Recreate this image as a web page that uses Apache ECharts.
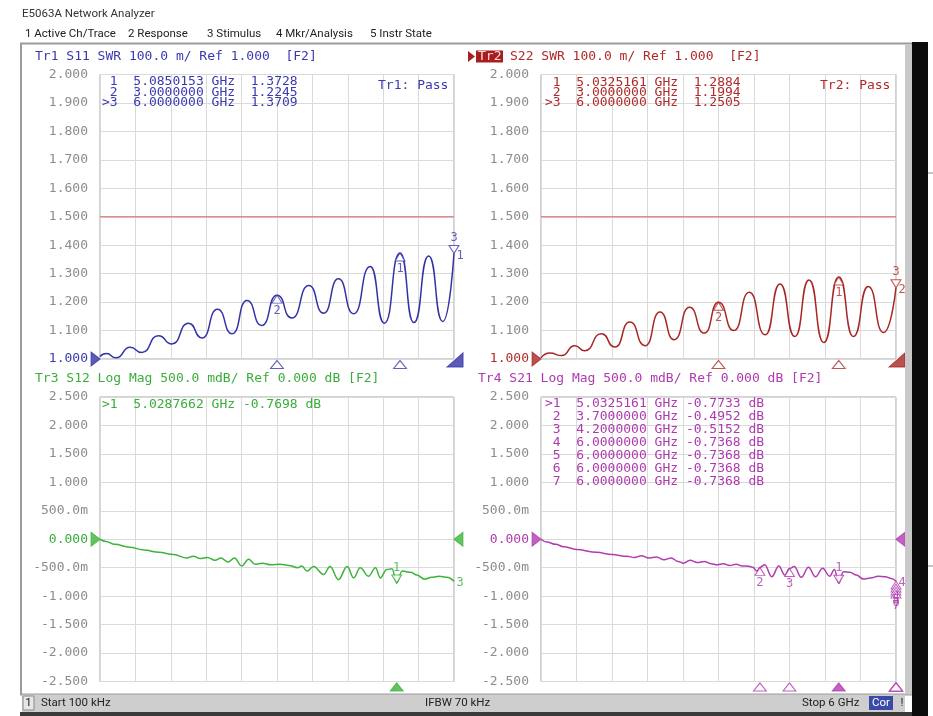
<!DOCTYPE html>
<html><head><meta charset="utf-8">
<script src="https://cdn.jsdelivr.net/npm/echarts/dist/echarts.min.js"></script>
<style>html,body{margin:0;padding:0;background:#fff;}#c{width:933px;height:716px;}</style>
</head><body><div id="c"></div>
<script>
// ---------- data (GHz, value) ----------
const s11Trace = [[0,1.009],[0.11,1.019],[0.27,1.004],[0.51,1.041],[0.71,1.023],[0.99,1.082],[1.22,1.053],[1.50,1.126],[1.73,1.074],[1.99,1.175],[2.24,1.089],[2.49,1.206],[2.74,1.118],[3.0,1.2245],[3.25,1.144],[3.54,1.258],[3.79,1.161],[4.04,1.282],[4.30,1.159],[4.58,1.325],[4.82,1.126],[5.085,1.3728],[5.32,1.128],[5.57,1.362],[5.81,1.132],[6.0,1.3709]];
const s22Trace = [[0,1.004],[0.15,1.021],[0.35,1.012],[0.57,1.047],[0.74,1.029],[1.02,1.089],[1.25,1.042],[1.50,1.130],[1.76,1.047],[2.01,1.165],[2.25,1.068],[2.51,1.182],[2.76,1.091],[3.0,1.1994],[3.26,1.100],[3.52,1.235],[3.79,1.085],[4.04,1.264],[4.29,1.079],[4.53,1.278],[4.78,1.058],[5.0325,1.2884],[5.28,1.079],[5.53,1.255],[5.79,1.093],[6.0,1.2505]];
const s12Trace = [[0,0],[0.10,-0.04],[0.25,-0.09],[0.50,-0.14],[0.75,-0.19],[1.00,-0.23],[1.25,-0.27],[1.47,-0.33],[1.58,-0.30],[1.70,-0.34],[1.82,-0.32],[1.95,-0.37],[2.05,-0.33],[2.17,-0.40],[2.28,-0.33],[2.40,-0.47],[2.52,-0.35],[2.63,-0.44],[2.75,-0.42],[2.90,-0.45],[3.05,-0.44],[3.20,-0.46],[3.35,-0.50],[3.42,-0.47],[3.51,-0.56],[3.62,-0.48],[3.79,-0.62],[3.90,-0.48],[4.04,-0.71],[4.19,-0.48],[4.30,-0.68],[4.41,-0.50],[4.55,-0.65],[4.67,-0.50],[4.75,-0.68],[4.86,-0.53],[4.95,-0.52],[5.0288,-0.7698],[5.12,-0.56],[5.27,-0.58],[5.37,-0.63],[5.50,-0.70],[5.62,-0.67],[5.75,-0.65],[5.88,-0.67],[6.0,-0.74]];
const s21Trace = [[0,0],[0.10,-0.05],[0.25,-0.09],[0.38,-0.13],[0.60,-0.18],[0.94,-0.23],[1.20,-0.27],[1.45,-0.30],[1.58,-0.32],[1.70,-0.29],[1.82,-0.33],[1.95,-0.31],[2.08,-0.36],[2.20,-0.33],[2.32,-0.39],[2.41,-0.42],[2.52,-0.37],[2.64,-0.41],[2.76,-0.39],[2.88,-0.43],[2.97,-0.45],[3.08,-0.43],[3.19,-0.46],[3.30,-0.44],[3.40,-0.47],[3.48,-0.47],[3.58,-0.49],[3.65,-0.56],[3.70,-0.4952],[3.78,-0.45],[3.90,-0.66],[4.02,-0.47],[4.12,-0.63],[4.20,-0.5152],[4.28,-0.48],[4.40,-0.67],[4.52,-0.49],[4.64,-0.66],[4.76,-0.51],[4.88,-0.65],[4.96,-0.53],[5.0325,-0.7733],[5.11,-0.57],[5.22,-0.58],[5.33,-0.63],[5.45,-0.70],[5.57,-0.68],[5.70,-0.65],[5.82,-0.66],[5.92,-0.69],[6.0,-0.7368]];
const limitLine = [[0,1.5],[6,1.5]];
// markers [freq GHz, value]
const s11Markers = [[5.0850153,1.3728],[3.0,1.2245],[6.0,1.3709]];
const s22Markers = [[5.0325161,1.2884],[3.0,1.1994],[6.0,1.2505]];
const s12Markers = [[5.0287662,-0.7698]];
const s21Markers = [[5.0325161,-0.7733],[3.7,-0.4952],[4.2,-0.5152],[6.0,-0.7368],[6.0,-0.7368],[6.0,-0.7368],[6.0,-0.7368]];
// tick labels
const swrTicks = ['1.000','1.100','1.200','1.300','1.400','1.500','1.600','1.700','1.800','1.900','2.000'];
const logTicks = ['-2.500','-2.000','-1.500','-1.000','-500.0m','0.000','500.0m','1.000','1.500','2.000','2.500'];

// ---------- styles ----------
const MONO = '"DejaVu Sans Mono", monospace';
const SANS = 'Roboto, "Noto Sans", sans-serif';
const GRAY = '#8c8c8c';
const panels = [
  {left:100, top:74.5, width:354, height:284.5, min:1, max:2, step:0.1, ticks:swrTicks, ref:1, color:'#3a3ab0', line:'#3333a6', trace:s11Trace, markers:s11Markers, active:2, limit:true, tr:'1', rightRef:false},
  {left:541, top:74.5, width:355, height:284.5, min:1, max:2, step:0.1, ticks:swrTicks, ref:1, color:'#b02a2a', line:'#a82626', trace:s22Trace, markers:s22Markers, active:2, limit:true, tr:'2', rightRef:false},
  {left:100, top:397, width:354, height:284.5, min:-2.5, max:2.5, step:0.5, ticks:logTicks, ref:0, color:'#3aae3a', line:'#3cb43c', trace:s12Trace, markers:s12Markers, active:0, limit:false, tr:'3', rightRef:true},
  {left:541, top:397, width:355, height:284.5, min:-2.5, max:2.5, step:0.5, ticks:logTicks, ref:0, color:'#ae3aae', line:'#b03cb0', trace:s21Trace, markers:s21Markers, active:0, limit:false, tr:'4', rightRef:true}
];

const grid=[], xAxis=[], yAxis=[], series=[];
const P_RIGHT='path://M0,0 L1,0.5 L0,1 Z', P_LEFT='path://M1,0 L0,0.5 L1,1 Z', P_DOWN='path://M0,0 L1,0 L0.5,1 Z', P_CORNER='path://M1,0 L1,1 L0,1 Z';
panels.forEach((p,i)=>{
  grid.push({left:p.left, top:p.top, width:p.width, height:p.height, show:true, borderColor:'#a4a4a4', borderWidth:1, backgroundColor:'rgba(0,0,0,0)'});
  xAxis.push({gridIndex:i, type:'value', min:0, max:6, interval:0.6, axisLine:{show:false}, axisTick:{show:false}, axisLabel:{show:false},
    splitLine:{show:true, lineStyle:{color:'#dadada', width:1}}});
  yAxis.push({gridIndex:i, type:'value', min:p.min, max:p.max, interval:p.step, axisLine:{show:false}, axisTick:{show:false},
    splitLine:{show:true, lineStyle:{color:'#dadada', width:1}},
    axisLabel:{margin:12, fontFamily:MONO, fontSize:13,
      formatter:(v)=>p.ticks[Math.round((Number(v)-p.min)/p.step)],
      color:(v)=>Math.abs(Number(v)-p.ref)<1e-9 ? p.color : GRAY}});
  if(p.limit){
    series.push({type:'line', xAxisIndex:i, yAxisIndex:i, data:limitLine, showSymbol:false, silent:true, lineStyle:{color:'#d46666', width:1.2}, z:2});
  }
  series.push({type:'line', xAxisIndex:i, yAxisIndex:i, data:p.trace, showSymbol:false, smooth:i<2?0.6:0.4, smoothMonotone:'x', silent:true, lineStyle:{color:p.line, width:1.5}, z:3});
  const lab = (t,pos,extra)=>Object.assign({show:true, formatter:t, position:pos, distance:1, color:p.color, fontFamily:MONO, fontSize:12}, extra||{});
  const outline = {color:'#ffffff', borderColor:p.color, borderWidth:1};
  const filled = {color:p.line, borderColor:p.line, borderWidth:1};
  const pts=[];
  let stack=0;
  p.markers.forEach((m,k)=>{
    const num=String(k+1);
    if(k===p.active){
      pts.push({value:m, symbol:P_DOWN, symbolSize:[10,8], symbolOffset:[0,-4], itemStyle:outline, label:lab(num,'top')});
    } else {
      const off = (m[0]>=6 && i===3) ? 4+3*(stack++) : 4;
      pts.push({value:m, symbol:'triangle', symbolSize:[10,8], symbolOffset:[0,off], itemStyle:outline, label:lab(num,'bottom')});
    }
    // stimulus indicator under the x axis
    if(k===p.active && m[0]>=6){
      pts.push({value:[m[0],p.min], symbol:P_CORNER, symbolSize:[16,14], symbolOffset:[1,1], itemStyle:filled});
    } else {
      pts.push({value:[m[0],p.min], symbol:'triangle', symbolSize:[13,8], symbolOffset:[0,5.5], itemStyle:k===p.active?filled:outline});
    }
  });
  // trace number at end of trace
  const last = p.trace[p.trace.length-1];
  pts.push({value:last, symbol:'circle', symbolSize:1, itemStyle:{color:'rgba(0,0,0,0)'}, label:lab(p.tr,'right',{distance:2, offset:[0,2]})});
  // reference position indicators
  pts.push({value:[0,p.ref], symbol:P_RIGHT, symbolSize:[9,14], symbolOffset:[-4.5,0], itemStyle:filled});
  if(p.rightRef) pts.push({value:[6,p.ref], symbol:P_LEFT, symbolSize:[9,14], symbolOffset:[4.5,0], itemStyle:filled});
  series.push({type:'scatter', xAxisIndex:i, yAxisIndex:i, data:pts, clip:false, silent:true, z:5});
});

// ---------- text / frame graphics ----------
const F13 = '13px ' + MONO;
const g = [];
function txt(x,y,s,fill,font,align,z){ g.push({type:'text', x:x, y:y, z:z||100, style:{text:s, fill:fill, font:font, textAlign:align||'left', textVerticalAlign:'middle'}}); }
function rect(x,y,w,h,fill,stroke,lw,z){ g.push({type:'rect', z:z||50, shape:{x:x,y:y,width:w,height:h}, style:{fill:fill, stroke:stroke||null, lineWidth:lw||0}}); }

// frame
rect(21,43.5,891,651,'rgba(0,0,0,0)','#9c9c9c',2,10);
rect(905,44.5,7,650,'#c9c9c9',null,0,11);
rect(912,42,16,674,'#0b0b0b',null,0,12);
g.push({type:'line', z:12, shape:{x1:928,y1:173,x2:933,y2:173}, style:{stroke:'#888', lineWidth:1}});
g.push({type:'line', z:12, shape:{x1:928,y1:566,x2:933,y2:566}, style:{stroke:'#888', lineWidth:1}});
// title & menu
txt(22,14,'E5063A Network Analyzer','#333','11.5px '+SANS);
txt(25,34.5,'1 Active Ch/Trace','#222','11.5px '+SANS);
txt(128,34.5,'2 Response','#222','11.5px '+SANS);
txt(207,34.5,'3 Stimulus','#222','11.5px '+SANS);
txt(276,34.5,'4 Mkr/Analysis','#222','11.5px '+SANS);
txt(370,34.5,'5 Instr State','#222','11.5px '+SANS);
// status bar
rect(22,694.5,883,17.5,'#cecece',null,0,13);
rect(23,696,11,14,'#e6e6e6','#8a8a8a',1,14);
txt(28.5,703,'1','#222','11.5px '+SANS,'center');
txt(41,703,'Start 100 kHz','#222','11.5px '+SANS);
txt(425,703,'IFBW 70 kHz','#222','11.5px '+SANS);
txt(802,703,'Stop 6 GHz','#222','11.5px '+SANS);
rect(869,696,24,14,'#3b4aa6',null,0,14);
txt(881,703,'Cor','#ffffff','11.5px '+SANS,'center');
txt(902,703,'!','#222','11.5px '+SANS,'center');
rect(20,712,892,4,'#3a3a3a',null,0,13);

// headers
txt(35,56.5,'Tr1 S11 SWR 100.0 m/ Ref 1.000  [F2]',panels[0].color,F13);
g.push({type:'polygon', z:100, shape:{points:[[468,51],[475,56.5],[468,62]]}, style:{fill:'#a82020'}});
rect(476,50.5,27,12,'#a81e1e',null,0,99);
txt(478,56.5,'Tr2','#ffd8d8',F13);
txt(510,56.5,'S22 SWR 100.0 m/ Ref 1.000  [F2]',panels[1].color,F13);
txt(35,379,'Tr3 S12 Log Mag 500.0 mdB/ Ref 0.000 dB [F2]',panels[2].color,F13);
txt(478,379,'Tr4 S21 Log Mag 500.0 mdB/ Ref 0.000 dB [F2]',panels[3].color,F13);

// marker readouts
function readout(p, x, y0, dy, unit){
  p.markers.forEach((m,k)=>{
    const head = (k===p.active?'>':' ') + String(k+1) + '  ';
    const v = m[1].toFixed(4);
    const val = unit ? ' ' + v + ' dB' : '  ' + v;
    txt(x, y0+k*dy, head + m[0].toFixed(7) + ' GHz' + val, p.color, F13);
  });
}
readout(panels[0],102,82,10.3,false);
readout(panels[1],545,82.5,10.3,false);
readout(panels[2],102,405,12.9,true);
readout(panels[3],545,404,12.9,true);
txt(378,86,'Tr1: Pass',panels[0].color,F13);
txt(820,85.5,'Tr2: Pass',panels[1].color,F13);

const chart = echarts.init(document.getElementById('c'), null, {renderer:'canvas'});
chart.setOption({animation:false, backgroundColor:'#ffffff', grid, xAxis, yAxis, series, graphic:g});
</script>
</body></html>
